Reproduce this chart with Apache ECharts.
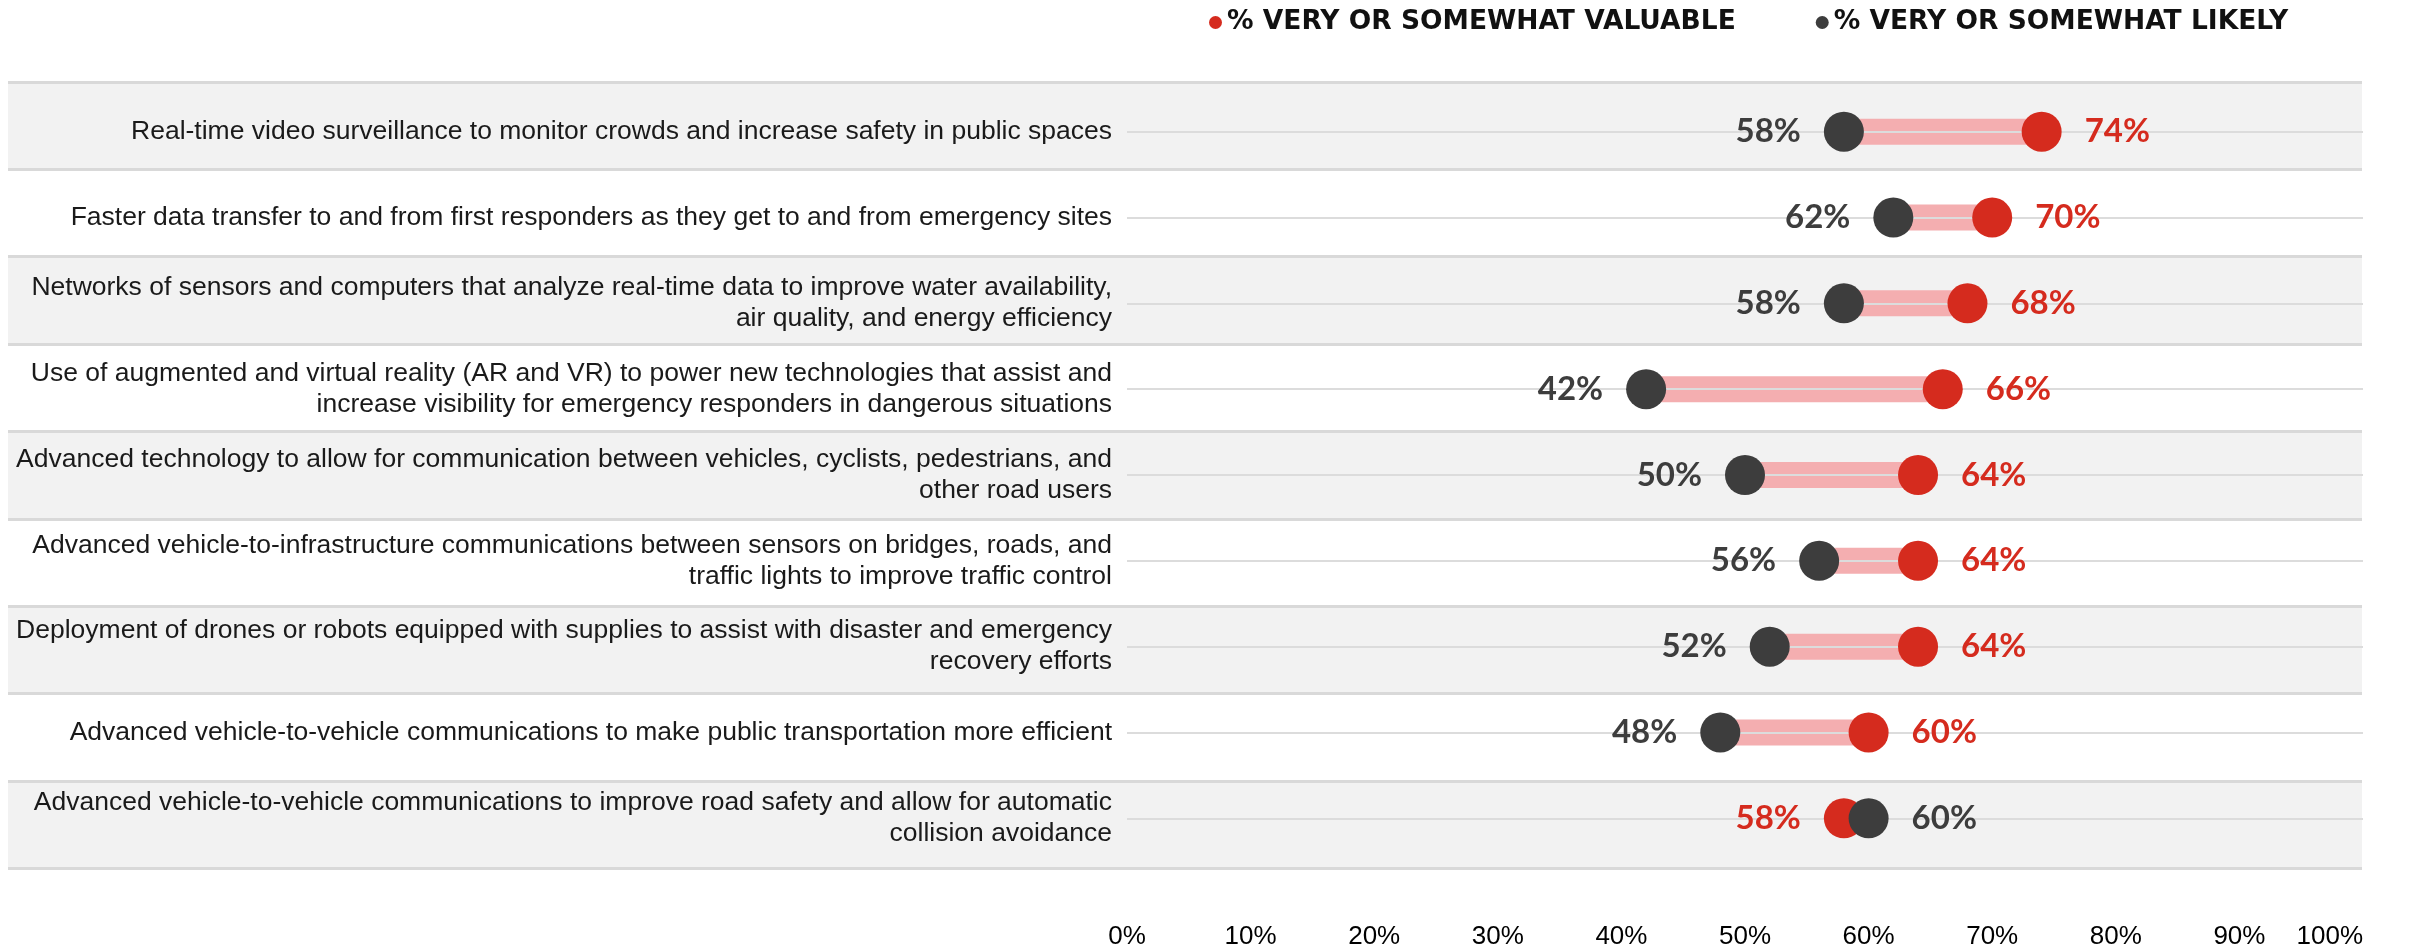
<!DOCTYPE html>
<html>
<head>
<meta charset="utf-8">
<script src="https://cdn.jsdelivr.net/npm/echarts@6/dist/echarts.min.js"></script>
<style>
html,body{margin:0;padding:0;background:#fff;}
#chart{width:2418px;height:946px;}
</style>
</head>
<body>
<div id="chart"></div>
<script>
const categories = [
  "Real-time video surveillance to monitor crowds and increase safety in public spaces",
  "Faster data transfer to and from first responders as they get to and from emergency sites",
  "Networks of sensors and computers that analyze real-time data to improve water availability,\nair quality, and energy efficiency",
  "Use of augmented and virtual reality (AR and VR) to power new technologies that assist and\nincrease visibility for emergency responders in dangerous situations",
  "Advanced technology to allow for communication between vehicles, cyclists, pedestrians, and\nother road users",
  "Advanced vehicle-to-infrastructure communications between sensors on bridges, roads, and\ntraffic lights to improve traffic control",
  "Deployment of drones or robots equipped with supplies to assist with disaster and emergency\nrecovery efforts",
  "Advanced vehicle-to-vehicle communications to make public transportation more efficient",
  "Advanced vehicle-to-vehicle communications to improve road safety and allow for automatic\ncollision avoidance"
];
const valuable = [74, 70, 68, 66, 64, 64, 64, 60, 58];
const likely   = [58, 62, 58, 42, 50, 56, 52, 48, 60];
const seriesNames = ["% VERY OR SOMEWHAT VALUABLE", "% VERY OR SOMEWHAT LIKELY"];
const xMin = 0, xMax = 100, xInterval = 10;

const RED = '#d52b1e', DARK = '#3d3d3d', PINK = '#f4aeb0';

const base = valuable.map((v, i) => Math.min(v, likely[i]));
const span = valuable.map((v, i) => Math.abs(v - likely[i]));

const valueLabel = (color) => ({
  show: true,
  color: color,
  fontFamily: 'Lato, "Open Sans", sans-serif',
  fontWeight: 'bold',
  fontSize: 33,
  distance: 23
});

const chart = echarts.init(document.getElementById('chart'), null, {renderer: 'canvas'});
chart.setOption({
  backgroundColor: '#ffffff',
  animation: false,
  legend: {
    left: 1204, top: 4,
    itemWidth: 13, itemHeight: 13, itemGap: 80,
    icon: 'circle',
    data: seriesNames,
    textStyle: {
      fontFamily: '"DejaVu Sans", sans-serif',
      fontWeight: 'bold',
      fontSize: 26.5,
      color: '#111111'
    }
  },
  grid: [
    {left: 1127, right: 55, top: 131.7, bottom: 127.7, containLabel: false, outerBoundsMode: 'none'},
    {left: 8, right: 56, top: 82, bottom: 77.7, containLabel: false, outerBoundsMode: 'none'}
  ],
  xAxis: [
    {
      gridIndex: 0, type: 'value', min: xMin, max: xMax, interval: xInterval,
      axisLine: {show: false}, axisTick: {show: false}, splitLine: {show: false},
      axisLabel: {
        formatter: '{value}%', margin: 106, color: '#000000',
        fontFamily: '"Liberation Sans Narrow", "Liberation Sans", Arial, sans-serif',
        fontSize: 26, alignMaxLabel: 'right'
      }
    },
    {gridIndex: 1, type: 'value', show: false, min: 0, max: 1}
  ],
  yAxis: [
    {
      gridIndex: 0, type: 'category', data: categories, inverse: true, boundaryGap: false,
      z: 2,
      axisLine: {show: false}, axisTick: {show: false},
      splitLine: {show: true, lineStyle: {color: '#dcdcdc', width: 2}},
      axisLabel: {
        margin: 15, color: '#1a1a1a', align: 'right',
        fontFamily: '"Liberation Sans", Arial, sans-serif',
        fontSize: 26.5, lineHeight: 31
      }
    },
    {
      gridIndex: 1, type: 'category', data: categories, inverse: true, boundaryGap: true,
      z: 0,
      axisLine: {show: false}, axisTick: {show: false}, axisLabel: {show: false},
      splitArea: {show: true, areaStyle: {color: ['#f2f2f2', '#ffffff']}},
      splitLine: {show: true, lineStyle: {color: '#d9d9d9', width: 3}}
    }
  ],
  series: [
    {
      type: 'bar', name: 'base', stack: 'range', xAxisIndex: 0, yAxisIndex: 0,
      data: base, barWidth: 26, itemStyle: {color: 'transparent'}, silent: true, z: 1
    },
    {
      type: 'bar', name: 'span', stack: 'range', xAxisIndex: 0, yAxisIndex: 0,
      data: span, barWidth: 26, itemStyle: {color: PINK}, silent: true, z: 1
    },
    {
      type: 'scatter', name: seriesNames[0], xAxisIndex: 0, yAxisIndex: 0,
      symbol: 'circle', symbolSize: 40, z: 3,
      itemStyle: {color: RED, opacity: 1},
      data: valuable.map((v, i) => ({
        value: [v, i],
        label: Object.assign(valueLabel(RED), {position: v >= likely[i] ? 'right' : 'left', formatter: v + '%'})
      }))
    },
    {
      type: 'scatter', name: seriesNames[1], xAxisIndex: 0, yAxisIndex: 0,
      symbol: 'circle', symbolSize: 40, z: 4,
      itemStyle: {color: DARK, opacity: 1},
      data: likely.map((v, i) => ({
        value: [v, i],
        label: Object.assign(valueLabel(DARK), {position: v > valuable[i] ? 'right' : 'left', formatter: v + '%'})
      }))
    }
  ]
});
</script>
</body>
</html>
